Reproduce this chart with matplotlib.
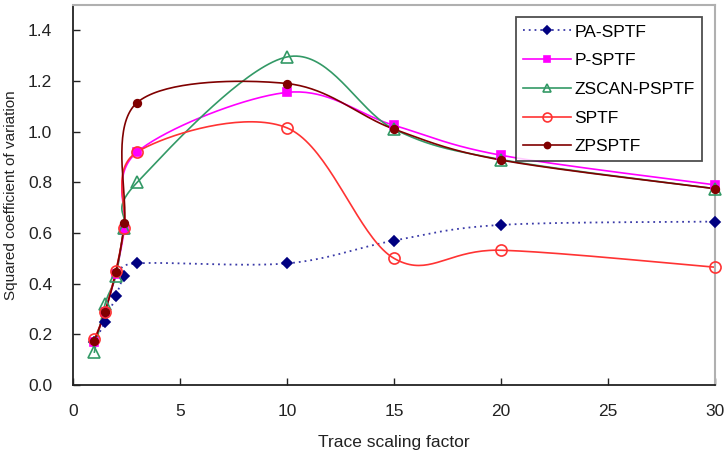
import numpy as np
import matplotlib
matplotlib.use("Agg")
import matplotlib.pyplot as plt
from matplotlib.lines import Line2D

plt.rcParams['font.family'] = ['Liberation Sans', 'DejaVu Sans']

x_vals = [1, 1.5, 2, 2.4, 3, 10, 15, 20, 30]
pa_sptf = [0.17, 0.25, 0.35, 0.43, 0.48, 0.48, 0.57, 0.632, 0.645]
p_sptf = [0.17, 0.29, 0.44, 0.61, 0.92, 1.155, 1.025, 0.907, 0.79]
zscan_psptf = [0.13, 0.32, 0.43, 0.62, 0.80, 1.295, 1.01, 0.89, 0.775]
sptf = [0.18, 0.29, 0.45, 0.62, 0.92, 1.015, 0.50, 0.532, 0.465]
zpsptf = [0.175, 0.29, 0.445, 0.64, 1.115, 1.19, 1.01, 0.888, 0.775]

labels = ["PA-SPTF", "P-SPTF", "ZSCAN-PSPTF", "SPTF", "ZPSPTF"]
series = [pa_sptf, p_sptf, zscan_psptf, sptf, zpsptf]


def smooth(xs, ys, n=40):
    # Excel-style smoothed line (cardinal spline -> cubic Bezier), in pixel space
    xs = np.asarray(xs, float) * 21.37
    ys = np.asarray(ys, float) * 253.6
    P = np.column_stack([xs, ys])
    out = []
    m = len(P)
    for i in range(m - 1):
        p0 = P[i - 1] if i > 0 else P[i]
        p1 = P[i]
        p2 = P[i + 1]
        p3 = P[i + 2] if i + 2 < m else P[i + 1]
        c1 = p1 + (p2 - p0) / 6.0
        c2 = p2 - (p3 - p1) / 6.0
        t = np.linspace(0, 1, n)[:, None]
        seg = ((1 - t) ** 3) * p1 + 3 * ((1 - t) ** 2) * t * c1 + 3 * (1 - t) * t ** 2 * c2 + t ** 3 * p2
        if i > 0:
            seg = seg[1:]
        out.append(seg)
    out = np.vstack(out)
    return out[:, 0] / 21.37, out[:, 1] / 253.6


fig = plt.figure(figsize=(7.24, 4.5), dpi=100)
ax = fig.add_axes([0.1008, 0.1444, 0.8868, 0.8445])

styles = [
    dict(lcolor="#3a3aa8", ls=(0, (1, 2.2)), marker="D", ms=5, mfc="#000080", mec="#000080", lw=1.3),
    dict(lcolor="#FF00FF", ls="-", marker="s", ms=6, mfc="#FF00FF", mec="#FF00FF", lw=1.2),
    dict(lcolor="#339966", ls="-", marker="^", ms=8, mfc="none", mec="#339966", lw=1.2),
    dict(lcolor="#FF3333", ls="-", marker="o", ms=8, mfc="none", mec="#FF3333", lw=1.2),
    dict(lcolor="#800000", ls="-", marker="o", ms=5.5, mfc="#800000", mec="#800000", lw=1.2),
]

handles = []
for ys, lab, st in zip(series, labels, styles):
    sx, sy = smooth(x_vals, ys)
    ax.plot(sx, sy, color=st["lcolor"], ls=st["ls"], lw=st["lw"], zorder=2, clip_on=False)
    ax.plot(x_vals, ys, ls="none", marker=st["marker"], ms=st["ms"], mfc=st["mfc"],
            mec=st["mec"], mew=1.2, zorder=3, clip_on=False)
    handles.append(Line2D([], [], color=st["lcolor"], ls=st["ls"], lw=st["lw"], marker=st["marker"],
                          ms=st["ms"] * 0.8, mfc=st["mfc"], mec=st["mec"], mew=1.2))

ax.set_xlim(0, 30)
ax.set_ylim(0, 1.5)
ax.set_xticks([0, 5, 10, 15, 20, 25, 30])
ax.set_yticks([0.0, 0.2, 0.4, 0.6, 0.8, 1.0, 1.2, 1.4])
ax.set_yticklabels(["0.0", "0.2", "0.4", "0.6", "0.8", "1.0", "1.2", "1.4"])
ax.tick_params(direction="in", length=5, width=1, labelsize=12.5, colors="#222222", pad=14)
ax.tick_params(axis="y", pad=15)
for s in ["left", "bottom"]:
    ax.spines[s].set_color("#222222")
    ax.spines[s].set_linewidth(1.3)
for s in ["top", "right"]:
    ax.spines[s].set_color("#b0b0b0")
    ax.spines[s].set_linewidth(1.5)

ax.set_xlabel("Trace scaling factor", fontsize=12.5, color="#222222", labelpad=11)
ax.set_ylabel("Squared coefficient of variation", fontsize=11, color="#222222", labelpad=7)

leg = ax.legend(handles, labels, loc="upper right", bbox_to_anchor=(0.993, 0.99), fontsize=12.5,
                frameon=True, fancybox=False, edgecolor="#222222", handlelength=2.8,
                borderpad=0.4, labelspacing=0.78, handletextpad=0.2)
leg.get_frame().set_linewidth(1.3)

fig.savefig("out.png", dpi=100)
